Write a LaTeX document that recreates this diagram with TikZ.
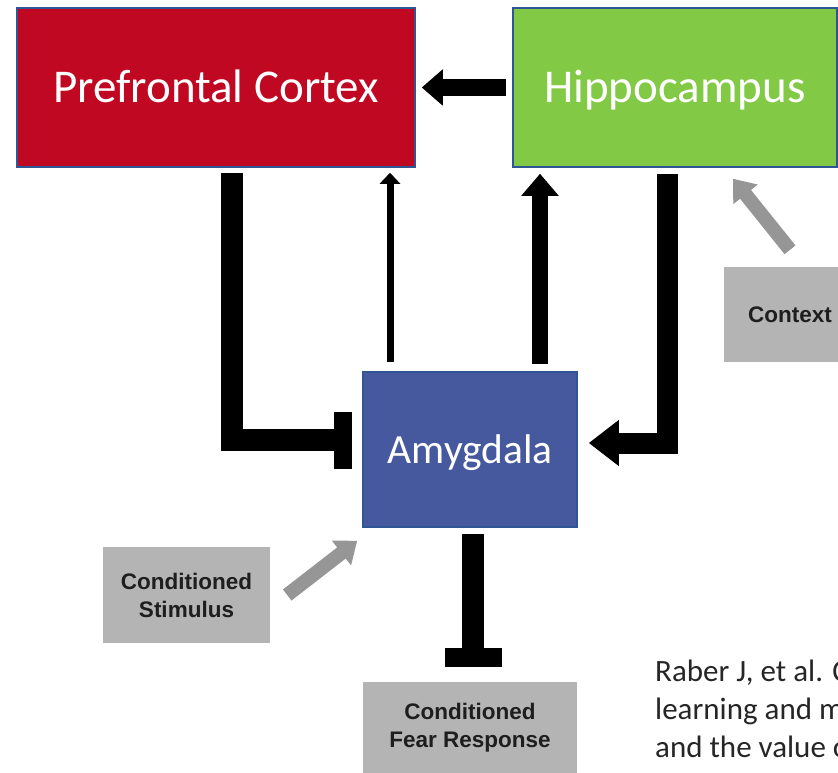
\documentclass[tikz,border=0pt]{standalone}
\usepackage{fontspec}
\setmainfont{Carlito}
\newfontfamily\grayfont{Liberation Sans}
\usetikzlibrary{arrows.meta,calc}
\definecolor{pfcred}{RGB}{192,8,34}
\definecolor{hipgreen}{RGB}{130,202,69}
\definecolor{amyblue}{RGB}{71,89,158}
\definecolor{bordc}{RGB}{47,85,151}
\definecolor{grayc}{RGB}{180,180,180}
\definecolor{gtxt}{RGB}{30,30,30}
\definecolor{garrow}{RGB}{150,150,150}
\definecolor{citec}{RGB}{38,38,38}
\tikzset{
  region/.style={draw=bordc, line width=1.5pt, text=white, inner sep=0pt,
    font=\fontsize{47}{56}\selectfont, text height=30.5pt, text depth=0pt},
  gbox/.style={fill=grayc, draw=none, inner sep=0pt, align=center, text=gtxt,
    font=\grayfont\bfseries\fontsize{22.5}{28}\selectfont},
  blk/.style={draw=black},
  gry/.style={draw=garrow},
  cite/.style={inner sep=0pt, text=citec, font=\fontsize{31}{38}\selectfont}
}
\begin{document}
\begin{tikzpicture}[x=1pt,y=-1pt]
\useasboundingbox (0,0) rectangle (838,773);
\clip (0,0) rectangle (838,773);
\fill[white] (0,0) rectangle (838,773);

% main regions
\node[region, fill=pfcred, minimum width=398pt, minimum height=159pt] (pfc) at (216,87.5) {Prefrontal Cortex};
\node[region, fill=hipgreen, minimum width=324pt, minimum height=159pt] (hip) at (675,87.5) {Hippocampus};
\node[region, fill=amyblue, font=\fontsize{41.5}{50}\selectfont, text height=27pt, minimum width=214pt, minimum height=155pt] (amy) at (470,449.5) {Amygdala};

% gray boxes
\node[gbox, minimum width=132pt, minimum height=95pt] (ctx) at (790,314.5) {Context};
\node[gbox, minimum width=167pt, minimum height=96pt] (cs) at (186.5,595) {Conditioned\\Stimulus};
\node[gbox, minimum width=214pt, minimum height=92pt] (cfr) at (470,728) {Conditioned\\Fear Response};

% connectors
\draw[blk, line width=17pt, -{Triangle[length=21pt,width=35pt]}, shorten <=6pt, shorten >=6pt] (hip.west) -- (pfc.east);
\draw[blk, line width=22pt, line join=miter, -{Rectangle[length=18pt,width=57pt]}] ($(pfc.south)+(16,5)$) |- ($(amy.west)+(-10,-9.5)$);
\draw[blk, line width=7pt, -{Triangle[length=11pt,width=20pt]}] ($(amy.north)+(-80,-9)$) -- ($(pfc.south)+(174,5)$);
\draw[blk, line width=16pt, -{Triangle[length=22pt,width=36pt]}] ($(amy.north)+(70,-7)$) -- ($(hip.south)+(-135,6)$);
\draw[blk, line width=21pt, line join=miter, -{Triangle[length=30pt,width=44pt]}] ($(hip.south)+(-8,6)$) |- ($(amy.east)+(11,-6.5)$);
\draw[gry, line width=14pt, -{Triangle[length=20pt,width=30pt]}] ($(ctx.north)+(0,-17)$) -- ($(hip.south)+(58,11)$);
\draw[gry, line width=14pt, -{Triangle[length=20pt,width=30pt]}] ($(cs.east)+(17,0)$) -- ($(amy.south west)+(-5,13)$);
\draw[blk, line width=22pt, -{Rectangle[length=19pt,width=57pt]}] ($(amy.south)+(3,6)$) -- ($(cfr.north)+(3,-15)$);

% citation
\node[cite, anchor=base west] (c1) at (655,681) {Raber J, et al. C};
\node[cite, anchor=base west] (c2) at (655,719) {learning and m};
\node[cite, anchor=base west] (c3) at (655,757) {and the value o};
\end{tikzpicture}
\end{document}
